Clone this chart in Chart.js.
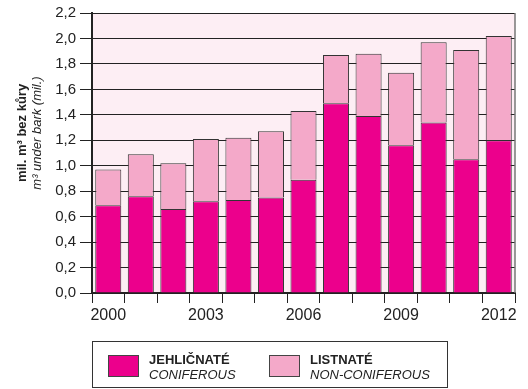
<!DOCTYPE html>
<html>
<head>
<meta charset="utf-8">
<script src="https://cdn.jsdelivr.net/npm/chart.js@4/dist/chart.umd.min.js"></script>
<style>
  body { margin: 0; background: #fff; font-family: "Liberation Sans", Arial, sans-serif; }
  #wrap { position: relative; width: 528px; height: 389px; }
  #legend { position: absolute; left: 92px; top: 341px; width: 356px; height: 47px;
            border: 1.5px solid #333; box-sizing: border-box; }
  .item { position: absolute; top: 12px; }
  .sw { position: absolute; top: 1px; left: 0; width: 31px; height: 22px; border: 1px solid #444; box-sizing: border-box; }
  .txt { position: absolute; left: 41px; top: -2px; font-size: 13px; line-height: 15px; white-space: nowrap; color: #222; }
  .txt b { display: block; }
  .txt i { display: block; }
</style>
</head>
<body>
<div id="wrap">
  <canvas id="myChart" width="528" height="389"></canvas>
  <div id="legend">
    <div class="item" style="left:15px"><div class="sw" style="background:#ec008c"></div>
      <div class="txt"><b>JEHLIČNATÉ</b><i>CONIFEROUS</i></div></div>
    <div class="item" style="left:176px"><div class="sw" style="background:#f4a9c9"></div>
      <div class="txt"><b>LISTNATÉ</b><i>NON-CONIFEROUS</i></div></div>
  </div>
</div>
<script>
// years on x axis
var years = ['2000','2001','2002','2003','2004','2005','2006','2007','2008','2009','2010','2011','2012']
// mil. m3 under bark
var coniferous = [0.69, 0.76, 0.66, 0.72, 0.73, 0.75, 0.89, 1.49, 1.39, 1.16, 1.34, 1.05, 1.20]
var nonConiferous = [0.28, 0.33, 0.36, 0.49, 0.49, 0.52, 0.54, 0.38, 0.49, 0.57, 0.63, 0.86, 0.82]
var shownYears = ['2000','2003','2006','2009','2012']

// pink plot background + right border + y title
const plotBg = {
    id: 'plotBg',
    beforeDraw(chart) {
        const a = chart.chartArea, c = chart.ctx
        c.save()
        c.fillStyle = '#fdeef4'
        c.fillRect(a.left, a.top, a.right - a.left, a.bottom - a.top)
        c.restore()
    },
    afterDraw(chart) {
        const a = chart.chartArea, c = chart.ctx
        c.save()
        c.strokeStyle = '#777'
        c.lineWidth = 1.5
        c.beginPath()
        c.moveTo(a.right, a.top)
        c.lineTo(a.right, a.bottom)
        c.stroke()
        c.translate(0, 133)
        c.rotate(-Math.PI / 2)
        c.textAlign = 'center'
        c.textBaseline = 'middle'
        c.fillStyle = '#222'
        c.font = 'bold 13px "Liberation Sans", Arial, sans-serif'
        c.fillText('mil. m³ bez kůry', 0, 22)
        c.font = 'italic 13px "Liberation Sans", Arial, sans-serif'
        c.fillText('m³ under bark (mil.)', 0, 37)
        c.restore()
    }
}

const ctx = document.getElementById('myChart').getContext('2d')
const myChart = new Chart(ctx, {
    type: 'bar',
    data: {
        labels: years,
        datasets: [{
            label: 'JEHLIČNATÉ',
            data: coniferous,
            backgroundColor: '#ec008c',
            borderColor: '#333',
            borderWidth: 1
        }, {
            label: 'LISTNATÉ',
            data: nonConiferous,
            backgroundColor: '#f4a9c9',
            borderColor: '#333',
            borderWidth: 1
        }]
    },
    options: {
        responsive: false,
        animation: false,
        layout: { padding: { top: 11, right: 13, left: 0, bottom: 0 } },
        datasets: { bar: { barPercentage: 0.8, categoryPercentage: 1 } },
        plugins: { legend: { display: false }, tooltip: { enabled: false } },
        scales: {
            x: {
                stacked: true,
                afterFit: function (s) { s.height = 96 },
                border: { display: true, color: '#222', width: 2 },
                grid: { offset: true, drawOnChartArea: false, drawTicks: true, tickLength: 10, color: '#222' },
                ticks: {
                    autoSkip: false, maxRotation: 0, color: '#222', padding: 3,
                    font: { family: '"Liberation Sans", Arial, sans-serif', size: 16 },
                    callback: function (v, i) { return shownYears.indexOf(years[i]) >= 0 ? years[i] : '' }
                }
            },
            y: {
                stacked: true,
                min: 0, max: 2.2,
                afterFit: function (s) { s.width = 92 },
                border: { display: true, color: '#222', width: 2 },
                grid: { color: '#222', lineWidth: 1, tickLength: 12 },
                ticks: {
                    stepSize: 0.2, color: '#222', padding: 4,
                    font: { family: '"Liberation Sans", Arial, sans-serif', size: 15 },
                    callback: function (v) { return v.toFixed(1).replace('.', ',') }
                }
            }
        }
    },
    plugins: [plotBg]
})
</script>
</body>
</html>
